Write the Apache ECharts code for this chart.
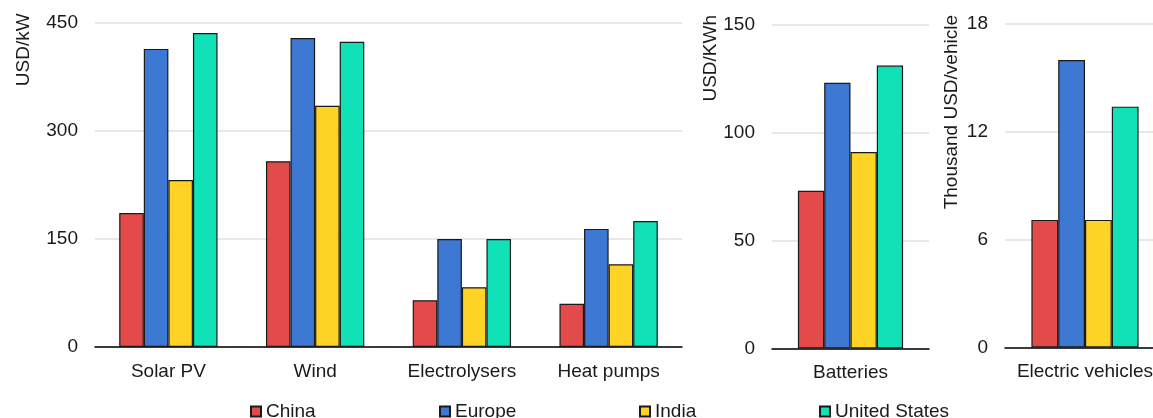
<!DOCTYPE html>
<html>
<head>
<meta charset="utf-8">
<script src="https://cdn.jsdelivr.net/npm/echarts@6/dist/echarts.min.js"></script>
<style>
html,body{margin:0;padding:0;background:#fff;}
#chart{width:1153px;height:418px;}
</style>
</head>
<body>
<div id="chart"></div>
<script>
// ---- data ----
const seriesNames = ['China', 'Europe', 'India', 'United States'];
const seriesColors = ['#E24B4A', '#3D78D3', '#FDD426', '#10E1B6'];

const categoriesMain = ['Solar PV', 'Wind', 'Electrolysers', 'Heat pumps'];
const chinaMain  = [186, 258, 65, 60];
const europeMain = [414, 429, 150, 164];
const indiaMain  = [232, 335, 83, 115];
const usMain     = [436, 424, 150, 175];
const ticksMain  = [0, 150, 300, 450];

const categoriesBat = ['Batteries'];
const chinaBat  = [73];
const europeBat = [123];
const indiaBat  = [91];
const usBat     = [131];
const ticksBat  = [0, 50, 100, 150];

const categoriesEV = ['Electric vehicles'];
const chinaEV  = [7.1];
const europeEV = [16];
const indiaEV  = [7.1];
const usEV     = [13.4];
const ticksEV  = [0, 6, 12, 18];

const axisNames = ['USD/kW', 'USD/KWh', 'Thousand USD/vehicle'];

// ---- chart ----
const FONT = '"Liberation Sans", Arial, sans-serif';
const FS = 19;
const TXT = '#1a1a1a';

const chart = echarts.init(document.getElementById('chart'), null, {renderer: 'canvas'});

const grids = [
  {left: 95, top: 23, width: 587, height: 324, outerBoundsMode: 'none'},
  {left: 772, top: 24.5, width: 157, height: 324, outerBoundsMode: 'none'},
  {left: 1005, top: 24, width: 160, height: 323.5, outerBoundsMode: 'none'}
];

const cats = [categoriesMain, categoriesBat, categoriesEV];
const ticks = [ticksMain, ticksBat, ticksEV];
const groups = [
  [chinaMain, europeMain, indiaMain, usMain],
  [chinaBat, europeBat, indiaBat, usBat],
  [chinaEV, europeEV, indiaEV, usEV]
];

const xAxes = cats.map((c, i) => ({
  type: 'category', gridIndex: i, data: c,
  axisLine: {show: true, lineStyle: {color: '#000', width: 1.5}},
  axisTick: {show: false},
  axisLabel: {color: TXT, fontSize: FS, fontFamily: FONT, margin: 15, interval: 0}
}));

const yAxes = ticks.map((t, i) => ({
  type: 'value', gridIndex: i,
  min: t[0], max: t[t.length - 1], interval: t[1] - t[0],
  axisLine: {show: false}, axisTick: {show: false},
  splitLine: {show: true, lineStyle: {color: '#e1e1e1', width: 1.5}},
  axisLabel: {color: TXT, fontSize: FS, fontFamily: FONT, margin: 17}
}));

const series = [];
groups.forEach((g, gi) => {
  g.forEach((vals, si) => {
    series.push({
      type: 'bar', name: seriesNames[si], xAxisIndex: gi, yAxisIndex: gi,
      data: vals, barGap: '0%', barCategoryGap: '33%',
      itemStyle: {color: seriesColors[si], borderColor: '#1a1a1a', borderWidth: 1.2},
      emphasis: {disabled: true}, animation: false
    });
  });
});

const legendLefts = [245, 434, 634, 814];
const legends = seriesNames.map((n, i) => ({
  data: [n], left: legendLefts[i], top: 397,
  icon: 'rect', itemWidth: 10, itemHeight: 10, itemGap: 0,
  textStyle: {color: TXT, fontSize: FS, fontFamily: FONT},
  selectedMode: false
}));

const namePos = [[23.3, 13.3], [710.5, 15], [951.8, 15]];
const graphics = axisNames.map((t, i) => ({
  type: 'text', x: namePos[i][0], y: namePos[i][1], rotation: Math.PI / 2,
  style: {text: t, fill: TXT, font: FS + 'px ' + FONT, align: 'right', verticalAlign: 'middle'}
}));

chart.setOption({
  animation: false,
  textStyle: {fontFamily: FONT},
  grid: grids,
  xAxis: xAxes,
  yAxis: yAxes,
  legend: legends,
  graphic: graphics,
  series: series
});
</script>
</body>
</html>
